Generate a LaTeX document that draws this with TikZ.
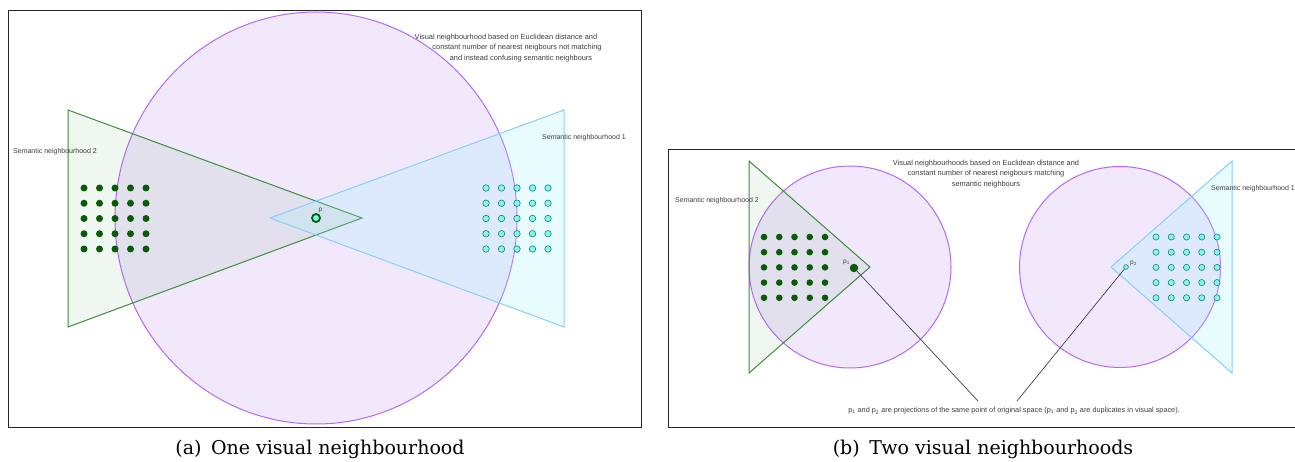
\documentclass[tikz,border=0pt]{standalone}
\usepackage{fontspec}
\newfontfamily\labelfont{Liberation Sans}
\newfontfamily\capfont{DejaVu Serif}
\definecolor{lavender}{RGB}{242,232,252}
\definecolor{violetline}{RGB}{178,106,250}
\definecolor{leafline}{RGB}{62,140,62}
\definecolor{leaffill}{RGB}{62,140,62}
\definecolor{skyline}{RGB}{135,206,250}
\definecolor{skyfill}{RGB}{150,240,255}
\definecolor{darkleaf}{RGB}{8,92,8}
\definecolor{aquadot}{RGB}{125,250,240}
\definecolor{aquaedge}{RGB}{40,120,120}
\definecolor{labelgrey}{RGB}{60,60,60}
\tikzset{
  panelframe/.style={draw=black!85, line width=0.9pt},
  neighbourhood/.style={draw=violetline, fill=lavender, line width=1pt},
  semgreen/.style={draw=leafline, fill=leaffill, fill opacity=0.08, line width=1pt},
  semcyan/.style={draw=skyline, fill=skyfill, fill opacity=0.22, line width=1pt},
  greendot/.style={circle, fill=darkleaf, inner sep=0pt, minimum size=7pt},
  cyandot/.style={circle, draw=aquaedge, fill=aquadot, line width=0.6pt, inner sep=0pt, minimum size=6.5pt},
  lbl/.style={font=\labelfont\fontsize{7}{10.5}\selectfont, text=labelgrey, inner sep=0pt},
  toplbl/.style={font=\labelfont\fontsize{7.4}{10.7}\selectfont, text=labelgrey, inner sep=0pt, align=center},
  smalllbl/.style={font=\labelfont\fontsize{6.5}{8}\selectfont, text=labelgrey, inner sep=0pt},
  caption/.style={font=\capfont\fontsize{19}{21}\selectfont, inner sep=0pt}
}
\begin{document}
\begin{tikzpicture}[x=1pt, y=-1pt]
  \useasboundingbox (0,0) rectangle (1295,462);
  \begin{scope}
  \clip (0,0) rectangle (1295,462);

  % (a) one visual neighbourhood
  \draw[panelframe] (8,10) rectangle (641,427);
  \draw[neighbourhood] (316,218) ellipse (201 and 206);
  \draw[semgreen] (68,110) -- (68,327) -- (362,218) -- cycle;
  \draw[semcyan] (564,110) -- (564,327) -- (270,218) -- cycle;

  % semantic neighbours
  \foreach \i in {0,...,4}
    \foreach \j in {0,...,4} {
      \node[greendot] (ga\i\j) at (84+15.5*\i, 188+15.25*\j) {};
      \node[cyandot] (ca\i\j) at (486+15.5*\i, 188+15.25*\j) {};
    }

  % the query point
  \node[circle, draw=darkleaf, fill=aquadot, line width=1.8pt, inner sep=0pt, minimum size=8pt] (p) at (316,218) {};
  \node[smalllbl, anchor=south west] (plbl) at (318.5,213) {p};

  % labels
  \node[toplbl] (visa) at (506,48)
    {Visual neighbourhood based on Euclidean distance and\\
     \hspace*{22pt}constant number of nearest neigbours not matching\\
     \hspace*{30pt}and instead confusing semantic neighbours};
  \node[lbl, anchor=west] (sem2a) at (13,152) {Semantic neighbourhood 2};
  \node[lbl, anchor=west] (sem1a) at (542,138) {Semantic neighbourhood 1};

  % (b) two visual neighbourhoods
  \draw[panelframe] (668,149) -- (1300,149) (668,149) -- (668,427) -- (1300,427);
  \draw[neighbourhood] (850,267) circle (101);
  \draw[neighbourhood] (1120,267) circle (100.5);
  \draw[semgreen] (749,161) -- (749,373) -- (870,267) -- cycle;
  \draw[semcyan] (1232,161) -- (1232,373) -- (1111,267) -- cycle;

  \foreach \i in {0,...,4}
    \foreach \j in {0,...,4} {
      \node[greendot, minimum size=6.6pt] (gb\i\j) at (764+15.25*\i, 237+15.2*\j) {};
      \node[cyandot, minimum size=6.2pt] (cb\i\j) at (1156+15.25*\i, 237+15.2*\j) {};
    }

  % the two projections
  \node[circle, fill=darkleaf, inner sep=0pt, minimum size=8.5pt] (p1) at (854,268) {};
  \node[circle, draw=aquaedge, fill=aquadot, line width=0.6pt, inner sep=0pt, minimum size=4.8pt] (p2) at (1126,267) {};
  \node[smalllbl, anchor=south east] (p1lbl) at (850,265) {p\textsubscript{1}};
  \node[smalllbl, anchor=south west] (p2lbl) at (1130,266) {p\textsubscript{2}};

  \node[smalllbl, font=\labelfont\fontsize{7.3}{8}\selectfont] (note) at (1014,411)
    {p\textsubscript{1} and p\textsubscript{2} are projections of the same point of original space (p\textsubscript{1} and p\textsubscript{2} are duplicates in visual space).};
  \coordinate (n1) at (978,401);
  \coordinate (n2) at (1017,401);
  \draw[black!75, line width=0.7pt] (p1) -- (n1);
  \draw[black!75, line width=0.7pt] (p2) -- (n2);

  \node[toplbl] (visb) at (986,174)
    {Visual neighbourhoods based on Euclidean distance and\\
     constant number of nearest neigbours matching\\
     semantic neighbours};
  \node[lbl, anchor=west] (sem2b) at (675,201) {Semantic neighbourhood 2};
  \node[lbl, anchor=west] (sem1b) at (1211,189) {Semantic neighbourhood 1};

  % captions
  \node[caption] (capa) at (320,449) {(a)\enspace One visual neighbourhood};
  \node[caption] (capb) at (983,449) {(b)\enspace Two visual neighbourhoods};
  \end{scope}
\end{tikzpicture}
\end{document}
